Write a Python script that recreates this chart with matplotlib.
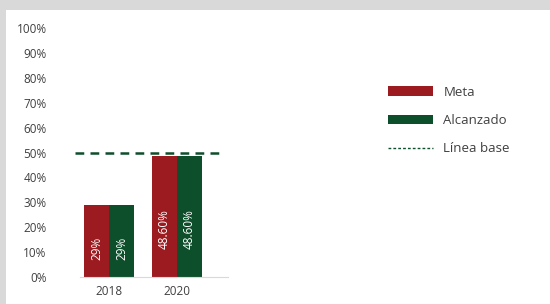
import matplotlib.pyplot as plt
from matplotlib.patches import Rectangle, Patch
from matplotlib.lines import Line2D
import numpy as np

years = ['2018', '2020']
meta = [29, 48.6]
alcanzado = [29, 48.6]
etiquetas_meta = ['29%', '48.60%']
etiquetas_alcanzado = ['29%', '48.60%']
linea_base = 50

rojo = '#9b1b20'
verde = '#0d4f2b'
gris_txt = '#404040'

plt.rcParams['font.family'] = ['Open Sans', 'DejaVu Sans']

fig = plt.figure(figsize=(5.5, 3.04), dpi=100)
fig.patch.set_facecolor('#d9d9d9')
# white panel
fig.patches.append(Rectangle((6 / 550, 0), 1, 1 - 10 / 304, transform=fig.transFigure,
                             facecolor='white', edgecolor='none', zorder=-5))

W, H = 550, 304
ax = fig.add_axes([80 / W, (H - 277) / H, (228 - 80) / W, (277 - 28) / H])
ax.set_facecolor('none')
ax.set_zorder(2)

x = np.arange(len(years))
w = 0.37
ax.bar(x - w / 2, meta, w, color=rojo, zorder=2)
ax.bar(x + w / 2, alcanzado, w, color=verde, zorder=2)

for i in range(len(years)):
    ax.text(x[i] - w / 2, meta[i] * 0.4, etiquetas_meta[i], rotation=90, ha='center', va='center',
            color='white', fontsize=8.5)
    ax.text(x[i] + w / 2, alcanzado[i] * 0.4, etiquetas_alcanzado[i], rotation=90, ha='center', va='center',
            color='white', fontsize=8.5)

ax.plot([-0.50, 1.63], [linea_base, linea_base], color=verde, lw=1.8, ls=(0, (3.5, 2.5)),
        clip_on=False, zorder=3)

ax.set_xlim(-0.43, 1.76)
ax.set_ylim(0, 100)
ax.set_yticks(range(0, 101, 10))
ax.set_yticklabels([f'{v}%' for v in range(0, 101, 10)])
ax.set_xticks(x)
ax.set_xticklabels(years)
ax.tick_params(axis='both', length=0, colors=gris_txt, labelsize=8.5)
ax.tick_params(axis='y', pad=24)
ax.tick_params(axis='x', pad=6)
for s in ['left', 'right', 'top']:
    ax.spines[s].set_visible(False)
ax.spines['bottom'].set_color('#d9d9d9')

handles = [Patch(facecolor=rojo, label='Meta'),
           Patch(facecolor=verde, label='Alcanzado'),
           Line2D([0], [0], color=verde, lw=1, ls=(0, (2, 1.5)), label='Línea base')]
leg = fig.legend(handles=handles, loc='upper left', bbox_to_anchor=(376 / W, 1 - 74 / H),
                 frameon=False, fontsize=9.5, handlelength=3.4, handleheight=0.75,
                 labelspacing=1.15, handletextpad=0.8)
for t in leg.get_texts():
    t.set_color(gris_txt)

fig.savefig('out.png', dpi=100)
